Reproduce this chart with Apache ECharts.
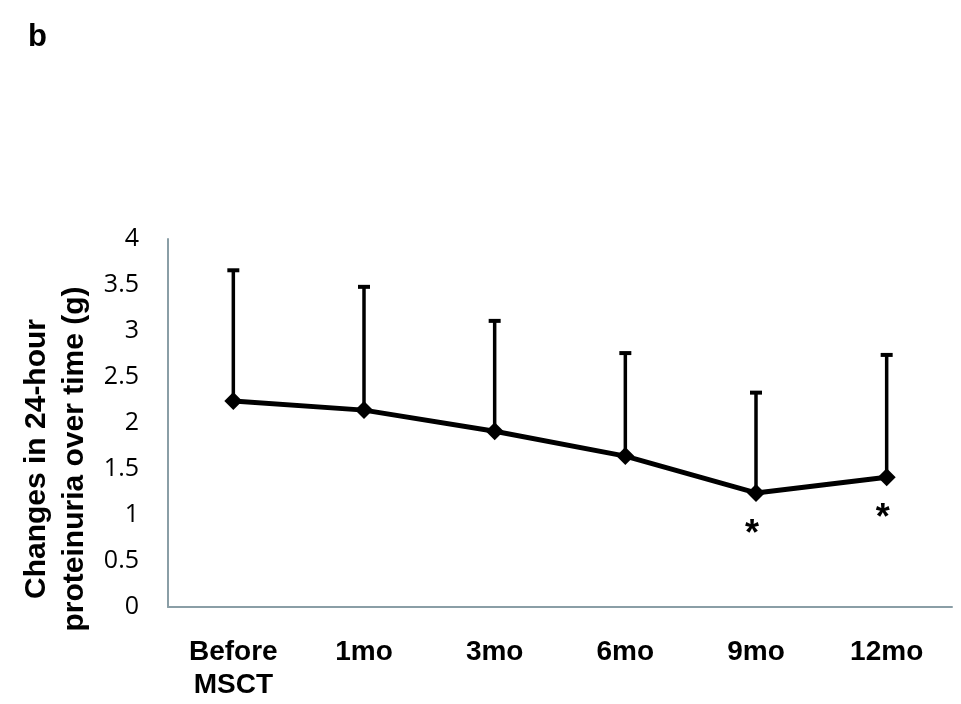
<!DOCTYPE html>
<html><head><meta charset="utf-8">
<script src="https://cdn.jsdelivr.net/npm/echarts@6/dist/echarts.min.js"></script>
<style>html,body{margin:0;padding:0;background:#fff}#c{width:961px;height:704px}</style>
</head><body><div id="c"></div>
<script>
const categories = ['Before\nMSCT', '1mo', '3mo', '6mo', '9mo', '12mo'];
const means = [2.24, 2.14, 1.91, 1.64, 1.24, 1.41];
const upper = [3.66, 3.48, 3.11, 2.76, 2.33, 2.74];
const significant = ['', '', '', '', '*', '*'];
const yTicks = [0, 0.5, 1, 1.5, 2, 2.5, 3, 3.5, 4];

const chart = echarts.init(document.getElementById('c'));
const axisColor = '#8a9ea6';
chart.setOption({
  animation: false,
  backgroundColor: '#fff',
  grid: { left: 168, right: 9, top: 239, bottom: 97 },
  xAxis: {
    type: 'category', data: categories,
    axisLine: { lineStyle: { color: axisColor, width: 2 } },
    axisTick: { show: false },
    axisLabel: { color: '#000', fontFamily: 'Liberation Sans', fontWeight: 'bold', fontSize: 28, margin: 29, lineHeight: 33 }
  },
  yAxis: {
    type: 'value', min: yTicks[0], max: yTicks[yTicks.length - 1], interval: 0.5,
    axisLine: { show: true, lineStyle: { color: axisColor, width: 2 } },
    axisTick: { show: false },
    splitLine: { show: false },
    axisLabel: { color: '#000', fontFamily: 'Open Sans', fontSize: 25, margin: 29 }
  },
  graphic: [
    { type: 'text', left: 28, top: 22, style: { text: 'b', font: 'bold 31px "Liberation Sans"', fill: '#000' } },
    { type: 'text', x: 56, y: 459, rotation: Math.PI / 2,
      style: { text: 'Changes in 24-hour\nproteinuria over time (g)', font: 'bold 30px "Liberation Sans"', fill: '#000',
        align: 'center', verticalAlign: 'middle', lineHeight: 38 } }
  ],
  series: [
    {
      type: 'custom',
      data: means.map((m, i) => [i, m, upper[i]]),
      renderItem: function (params, api) {
        const p0 = api.coord([api.value(0), api.value(1)]);
        const p1 = api.coord([api.value(0), api.value(2)]);
        const cap = 6;
        return { type: 'group', children: [
          { type: 'line', shape: { x1: p0[0], y1: p0[1], x2: p1[0], y2: p1[1] }, style: { stroke: '#000', lineWidth: 3.5 } },
          { type: 'line', shape: { x1: p1[0] - cap, y1: p1[1], x2: p1[0] + cap, y2: p1[1] }, style: { stroke: '#000', lineWidth: 4 } }
        ] };
      },
      z: 1
    },
    {
      type: 'line',
      data: means.map((m, i) => ({
        value: m,
        label: { show: significant[i] !== '', formatter: significant[i], position: 'bottom', distance: 15, offset: [-4, 0],
          fontSize: 36, fontWeight: 'bold', fontFamily: 'Liberation Sans', color: '#000' }
      })),
      symbol: 'diamond', symbolSize: 18,
      itemStyle: { color: '#000' },
      lineStyle: { color: '#000', width: 5 },
      z: 2
    }
  ]
});
</script></body></html>
